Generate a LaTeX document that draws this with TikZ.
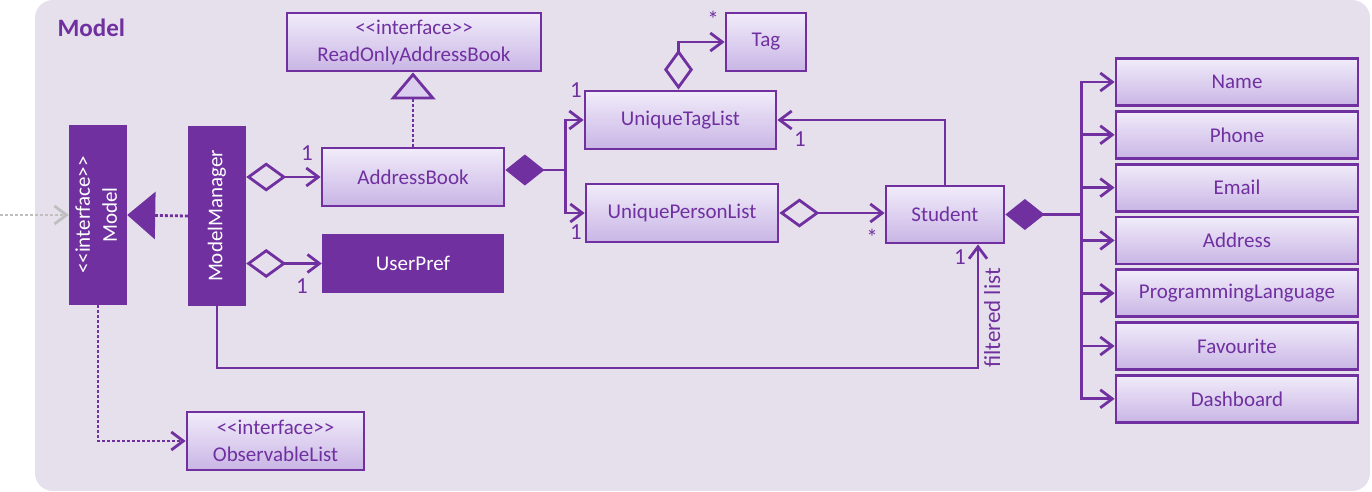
\documentclass[tikz,border=0pt]{standalone}
\usepackage{fontspec}
\usepackage{graphicx}
\setmainfont{Carlito}
\usetikzlibrary{arrows.meta}

\definecolor{umlpurple}{HTML}{7030A0}
\definecolor{modelbg}{HTML}{E6E0EC}
\definecolor{boxtop}{HTML}{F1ECFA}
\definecolor{boxbottom}{HTML}{C9B5E5}
\definecolor{hintgray}{HTML}{BFBFBF}

\newcommand{\stereotype}[1]{<\kern0pt<#1>\kern0pt>}

\tikzset{
    classbox/.style = {draw = umlpurple, line width = 2.8pt, top color = boxtop, bottom color = boxbottom,
                       text = umlpurple, inner sep = 0pt, align = center},
    solidbox/.style = {fill = umlpurple, text = white, inner sep = 0pt, align = center},
    mult/.style = {text = umlpurple, inner sep = 0pt, font = \fontsize{23}{27}\selectfont},
    link/.style = {draw = umlpurple, line width = 2.8pt},
    dots/.style = {dash pattern = on 3pt off 2pt},
    openhead/.tip = {Straight Barb[length = 12pt, width = 18pt]},
    aggr/.tip = {Diamond[length = 40pt, width = 29pt, fill = modelbg]},
    comp/.tip = {Diamond[length = 39pt, width = 31pt]},
    impl/.tip = {Triangle[length = 27pt, width = 45pt, fill = boxtop!45!boxbottom]},
    implfull/.tip = {Triangle[length = 28pt, width = 47pt]}
}

\begin{document}
\begin{tikzpicture}[x = 1pt, y = -1pt, font = \fontsize{21}{27}\selectfont]
    \useasboundingbox (0,0) rectangle (1372,492);

    % Draw the frame:
    \fill [modelbg, rounded corners = 18pt] (35,0) rectangle (1370,491);
    \node [anchor = west, text = umlpurple, font = \fontsize{25}{30}\selectfont\bfseries] (Title) at (54,28) {Model};

    % Draw the model side:
    \node [solidbox, minimum width = 58pt, minimum height = 180pt] (Model) at (98,215)
        {\rotatebox{90}{\begin{tabular}{@{}c@{}}\stereotype{interface}\\Model\end{tabular}}};
    \node [solidbox, minimum width = 58pt, minimum height = 180pt] (ModelManager) at (217,216)
        {\rotatebox{90}{ModelManager}};
    \node [classbox, minimum width = 177pt, minimum height = 58pt] (ObservableList) at (275.5,441)
        {\stereotype{interface}\\ObservableList};

    \coordinate (Caller) at (0,215);
    \draw [draw = hintgray, line width = 2.8pt, dots, -{openhead}] (Caller) -- (Model.west);
    \draw [link, dots, -{implfull}] (ModelManager.west) -- (Model.east);
    \draw [link, dots, -{openhead}] (Model.south) |- (ObservableList.west);

    % Draw the address book:
    \node [classbox, minimum width = 254pt, minimum height = 58pt] (ReadOnlyAddressBook) at (414,42)
        {\stereotype{interface}\\ReadOnlyAddressBook};
    \node [classbox, minimum width = 182pt, minimum height = 58pt] (AddressBook) at (413,177) {AddressBook};
    \node [solidbox, minimum width = 182pt, minimum height = 59pt] (UserPref) at (413,263.5) {UserPref};

    \draw [link, dots, -{impl}] (AddressBook.north) -- (AddressBook.north |- ReadOnlyAddressBook.south);
    \draw [link, {aggr}-{openhead}] (ModelManager.east |- AddressBook.west) -- (AddressBook.west);
    \draw [link, {aggr}-{openhead}] (ModelManager.east |- UserPref.west) -- (UserPref.west);
    \node [mult] (AbMult) at (307,153) {1};
    \node [mult] (PrefMult) at (302,286) {1};

    % Draw the lists:
    \node [classbox, minimum width = 80pt, minimum height = 58pt] (Tag) at (766,42) {Tag};
    \node [classbox, minimum width = 191pt, minimum height = 58pt] (UniqueTagList) at (680.5,120) {UniqueTagList};
    \node [classbox, minimum width = 192pt, minimum height = 58pt] (UniquePersonList) at (682,213) {UniquePersonList};
    \node [classbox, minimum width = 118pt, minimum height = 57pt] (Student) at (945,214.5) {Student};

    \draw [link, {comp}-] ([yshift = 7pt]AddressBook.east) -- ++(60,0) coordinate (AbFork);
    \draw [link, -{openhead}] (AbFork) |- (UniqueTagList.west);
    \draw [link, -{openhead}] (AbFork) |- (UniquePersonList.west);
    \node [mult] (TagListMult) at (576,90) {1};
    \node [mult] (PersonListMult) at (576,232) {1};

    \draw [link, {aggr}-{openhead}] ([xshift = -2pt]UniqueTagList.north) |- (Tag.west);
    \node [mult] (TagMult) at (713,19) {*};

    \draw [link, -{openhead}] (Student.north) |- (UniqueTagList.east);
    \node [mult] (StudentTagMult) at (800,139) {1};
    \draw [link, {aggr}-{openhead}] (UniquePersonList.east) -- (UniquePersonList.east -| Student.west);
    \node [mult] (StudentMult) at (872,237) {*};

    % Draw the filtered list:
    \coordinate (FilterBend) at (978,368);
    \draw [link, -{openhead}] (ModelManager.south) |- (FilterBend) -- (FilterBend |- Student.south);
    \node [mult] (FilterMult) at (960,257) {1};
    \node [mult, rotate = 90, anchor = north west] (FilterLabel) at (984,368) {filtered list};

    % Draw the student fields:
    \foreach \field [count = \i] in {Name, Phone, Email, Address, ProgrammingLanguage, Favourite, Dashboard}
        \node [classbox, minimum width = 242pt, minimum height = 47pt] (\field) at (1237, 29.2 + 52.8*\i) {\field};
    \draw [link, {comp}-] (Student.east) -- ++(76,0) coordinate (StudentFork);
    \foreach \field in {Name, Phone, Email, Address, ProgrammingLanguage, Favourite, Dashboard}
        \draw [link, -{openhead}] (StudentFork) |- (\field.west);
\end{tikzpicture}
\end{document}
